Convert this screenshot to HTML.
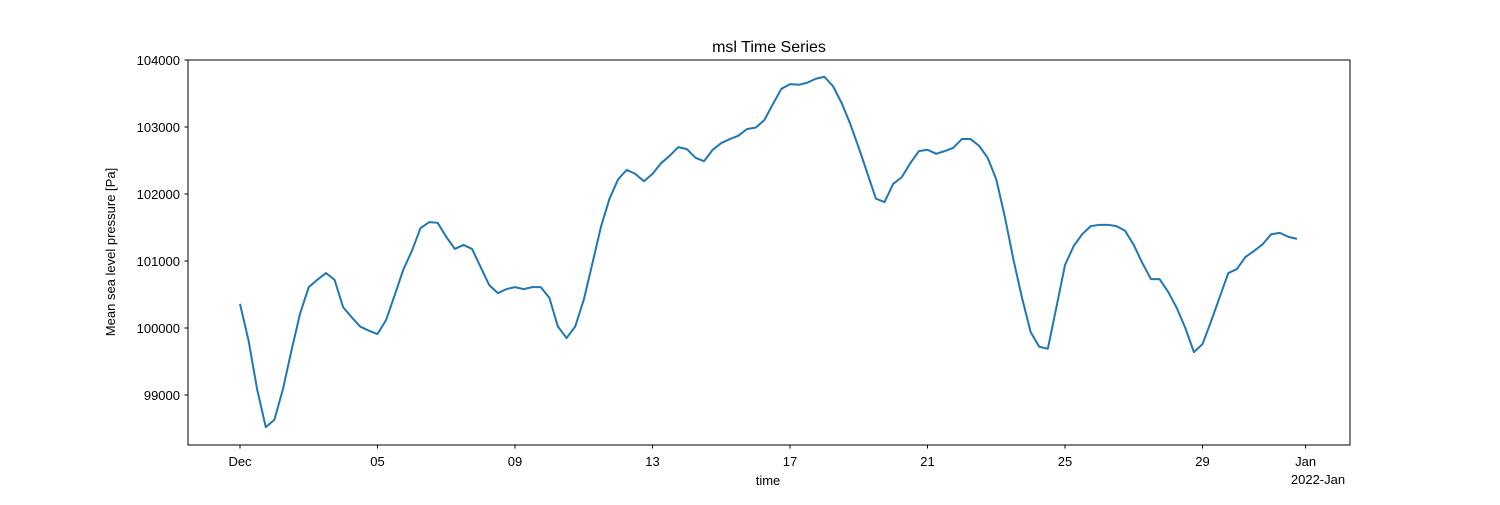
<!DOCTYPE html>
<html><head><meta charset="utf-8"><style>
body{margin:0;background:#fff;}
svg{font-family:"Liberation Sans","DejaVu Sans",sans-serif;}
</style></head><body>
<svg id="chart" width="1500" height="500" xmlns="http://www.w3.org/2000/svg">
<rect width="1500" height="500" fill="#fff"/>
<text x="769" y="52" text-anchor="middle" font-size="16">msl Time Series</text>
<g id="yticks"></g>
<g id="xticks"></g>
<path id="line" fill="none" stroke="#1f77b4" stroke-width="2" stroke-linejoin="round"/>
<rect x="188" y="60" width="1162" height="385" fill="none" stroke="#000" stroke-width="1"/>
<text transform="translate(115,252) rotate(-90)" text-anchor="middle" font-size="13">Mean sea level pressure [Pa]</text>
<text x="768" y="485" text-anchor="middle" font-size="13">time</text>
<text x="1318" y="484" text-anchor="middle" font-size="13">2022-Jan</text>
</svg>
<script>
const values = [100360,99810,99080,98520,98630,99090,99670,100220,100610,100720,100820,100720,100310,100160,100020,99960,99910,100120,100490,100870,101150,101490,101580,101570,101360,101180,101240,101180,100910,100640,100520,100580,100610,100580,100610,100610,100450,100020,99850,100020,100420,100960,101510,101930,102220,102360,102300,102190,102300,102460,102570,102700,102670,102540,102490,102660,102760,102820,102870,102970,102990,103100,103340,103570,103640,103630,103660,103720,103750,103610,103360,103050,102690,102310,101930,101880,102150,102250,102460,102640,102660,102600,102640,102690,102820,102820,102720,102540,102220,101660,101020,100450,99940,99720,99690,100310,100940,101220,101400,101520,101540,101540,101520,101450,101240,100970,100730,100730,100540,100300,100000,99640,99760,100100,100460,100820,100880,101060,101150,101250,101400,101420,101360,101330];
const stepHours = 6;
const yTicks = [99000,100000,101000,102000,103000,104000];
const xTickDays = [0,4,8,12,16,20,24,28,31];
const xTickLabels = ["Dec","05","09","13","17","21","25","29","Jan"];
const X0=240, PXDAY=34.375, YTOP=60, YMAX=104000, PXPA=67/1000;
const xs = d => X0 + d*PXDAY;
const ys = v => YTOP + (YMAX - v)*PXPA;
const NS="http://www.w3.org/2000/svg";
let d="";
values.forEach((v,i)=>{ d += (i?"L":"M")+xs(i*stepHours/24).toFixed(2)+","+ys(v).toFixed(2); });
document.getElementById('line').setAttribute('d',d);
const yg=document.getElementById('yticks');
yTicks.forEach(t=>{
  const y=ys(t);
  const l=document.createElementNS(NS,'line');
  
  
  l.setAttribute('x1',184.5);l.setAttribute('x2',188);l.setAttribute('y1',y);l.setAttribute('y2',y);l.setAttribute('stroke','#000');
  yg.appendChild(l);
  const tx=document.createElementNS(NS,'text');
  
  
  tx.setAttribute('x',180);tx.setAttribute('y',y+5);tx.setAttribute('text-anchor','end');tx.setAttribute('font-size','13');
  tx.textContent=t;
  yg.appendChild(tx);
});
const xg=document.getElementById('xticks');
xTickDays.forEach((dd,i)=>{
  const x=xs(dd);
  const l=document.createElementNS(NS,'line');
  
  
  l.setAttribute('x1',x);l.setAttribute('x2',x);l.setAttribute('y1',445);l.setAttribute('y2',448.5);l.setAttribute('stroke','#000');
  xg.appendChild(l);
  const tx=document.createElementNS(NS,'text');
  
  
  tx.setAttribute('x',x);tx.setAttribute('y',466);tx.setAttribute('text-anchor','middle');tx.setAttribute('font-size','13');
  tx.textContent=xTickLabels[i];
  xg.appendChild(tx);
});
</script>
</body></html>
